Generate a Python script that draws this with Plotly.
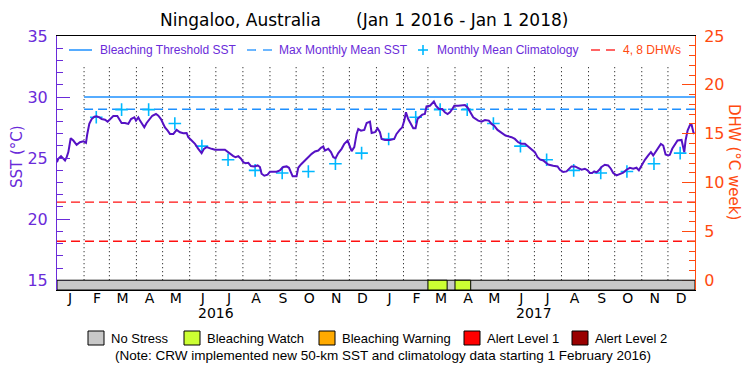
import pandas as pd
import plotly.graph_objects as go

# ---------------- data ----------------
base_date = "2016-01-01"

# daily SST (°C) - x as days after 1 Jan 2016
sst_day = [0, 1.5, 4.6, 7.3, 9.2, 11.1, 13, 15.7, 18.7, 22.5,
           26.3, 30.2, 33.2, 34.7, 37, 39.7, 42.8, 45.4, 48.5, 51.2,
           55, 58, 60.7, 64.5, 69.1, 72.2, 74, 77.9, 81.7, 84.8,
           88.6, 90.5, 93.2, 95.1, 97.8, 100, 102.7, 105.8, 109.2, 113.4,
           116.1, 119.1, 121.8, 123.7, 126.8, 129.4, 133.3, 137.1, 140.9, 144.7,
           148.5, 150.4, 154.3, 158.1, 161.9, 165.7, 168.4, 171.4, 177.2, 181,
           192.4, 195.5, 199.3, 202.0, 204.6, 207.7, 210.8, 213.4, 216.1, 219.2,
           222.2, 226.0, 229.9, 232.5, 234.4, 237.5, 241.3, 244.0, 251.6, 255.4,
           259.2, 263.1, 265.8, 268.1, 270.0, 274.5, 276.4, 279.5, 283.3, 287.9,
           291.8, 295.6, 299.4, 302.4, 305.1, 307.0, 310.8, 313.9, 316.6, 319.2,
           322.3, 326.1, 329.2, 333.0, 334.9, 337.6, 340.6, 343.3, 345.2, 348.3,
           352.1, 354.8, 358.6, 360.5,
           364.3, 367.3, 370.0, 371.9, 375.7, 381.4, 386.4, 389.0, 392.9, 395.6,
           397.9, 399.8, 402.4, 405.5, 408.2, 410.8, 413.1, 415.8, 418.5, 421.5,
           423.4, 427.3, 429.9, 431.8, 434.1, 437.6, 441.4, 444.4, 447.5, 450.2,
           452.9, 455.2, 459.7, 463.5, 467.4, 470.4, 473.1, 476.9, 482.6, 486.4,
           490.3, 494.8, 497.9, 500.9, 504.7, 508.6, 513.9, 520.8, 524.6, 528.4,
           532.2, 536.1, 539.9, 543.7, 547.5,
           550.6, 553.3, 557.1, 562.8, 568.5, 573.5, 576.2, 580.0, 583.8, 586.9,
           589.5, 593.4, 597.2, 601.0, 604.8, 607.9, 610.5, 613.2, 615.5, 618.2,
           620.8, 623.9, 627.7, 631.5, 634.6, 637.3, 641.1, 644.9, 648.7, 652.5,
           656.4, 660.2, 664.0, 666.7, 669.8, 673.6, 677.4, 680.5, 683.1, 685.8,
           688.9, 691.9, 694.6, 697.3, 700.3, 702.2, 704.9, 708.0, 711.0, 715.6,
           717.5, 718.7, 720.2, 722.5, 725.2, 727.1, 729.1, 730.2]
sst_val = [24.67, 24.95, 25.16, 24.95, 24.81, 25.08, 25.49, 26.63, 26.44, 26.09,
           26.30, 26.38, 26.25, 26.98, 27.80, 28.20, 28.39, 28.42, 28.34, 28.20,
           28.15, 27.99, 28.20, 28.45, 28.45, 28.15, 27.88, 27.88, 27.80, 28.20,
           28.34, 28.07, 28.34, 28.07, 27.80, 27.52, 27.88, 28.20, 28.47, 28.61,
           28.47, 28.20, 27.80, 27.52, 27.25, 26.98, 26.98, 27.31, 27.12, 27.04,
           27.06, 26.71, 26.44, 26.17, 25.76, 25.41, 25.76, 25.90, 25.76, 25.68,
           25.68, 25.49, 25.30, 25.16, 25.08, 25.16, 24.95, 24.67, 24.59, 24.62,
           24.35, 24.32, 24.40, 24.27, 23.72, 23.56, 23.64, 23.89, 23.89, 24.00,
           24.27, 24.32, 24.21, 23.86, 23.51, 23.51, 24.21, 24.48, 24.76, 25.08,
           25.35, 25.54, 25.62, 25.84, 25.95, 25.62, 25.76, 25.49, 25.08, 25.00,
           25.41, 25.76, 26.17, 26.44, 26.03, 25.57, 25.90, 26.98, 27.39, 27.25,
           27.31, 27.88, 27.99, 27.06,
           27.12, 27.44, 27.12, 26.57, 26.49, 26.49, 26.57, 26.98, 27.33, 27.52,
           28.07, 28.75, 28.20, 27.80, 27.44, 27.44, 28.20, 28.39, 28.56, 28.61,
           29.23, 29.29, 29.48, 29.64, 29.29, 29.02, 29.02, 28.75, 28.61, 28.75,
           29.02, 29.29, 29.29, 29.34, 29.34, 29.15, 28.83, 28.34, 28.07, 27.99,
           28.12, 28.07, 27.80, 27.66, 27.31, 27.12, 26.85, 26.71, 26.57, 26.30,
           26.17, 26.17, 25.95, 25.76, 25.49,
           25.08, 24.89, 24.81, 24.48, 24.38, 24.32, 24.05, 23.86, 23.91, 24.13,
           24.32, 24.32, 24.21, 24.05, 24.13, 24.00, 23.78, 23.78, 23.91, 23.83,
           24.00, 24.27, 24.46, 24.40, 24.13, 23.78, 23.59, 23.67, 23.81, 24.05,
           24.21, 24.13, 24.21, 24.00, 24.40, 24.86, 25.22, 25.49, 25.22, 25.49,
           25.90, 26.17, 26.03, 25.30, 25.22, 25.27, 25.76, 26.17, 26.44, 26.49,
           25.90, 25.49, 26.44, 27.25, 27.71, 27.74, 27.12, 26.98]

# monthly mean climatology (°C), Jan..Dec, shown from Feb 2016 on
clim_by_month = [26.57, 28.35, 28.97, 28.97, 27.83, 25.98,
                 24.86, 24.00, 23.78, 23.91, 24.54, 25.41]
clim_first_month = "2016-02-01"
clim_last_month = "2017-12-01"

threshold_sst = 30.0
mmm_sst = 29.0
new_data_start = "2016-02-01"
dhw_levels = [4, 8]

month_letters = ["J", "F", "M", "A", "M", "J", "J", "A", "S", "O", "N", "D"]
year_labels = ["2016", "2017"]
year_centers = ["2016-07-01", "2017-07-01"]

watch_start = ["2017-03-01", "2017-04-01"]
watch_end = ["2017-03-23", "2017-04-19"]

alert_names = ["No Stress", "Bleaching Watch", "Bleaching Warning", "Alert Level 1", "Alert Level 2"]
alert_colors = ["#C8C8C8", "#CCFF33", "#FFAA00", "#FF0000", "#990000"]

x_start, x_end = "2016-01-01", "2018-01-01"

# ---------------- styling ----------------
PURPLE_LINE = "#5511C4"
PURPLE_TXT = "#6A2BD9"
ORANGE = "#FF4A10"
BLUE = "#1E90FF"
CYAN = "#00B8FF"
RED = "#FF1010"
FONT = "DejaVu Sans"
LFONT = "Liberation Sans"

W, H = 750, 375
L, R, T, B = 57, 695, 36, 290


def px(x):
    return (x - L) / (R - L)


def py(y):
    return (B - y) / (B - T)


sst_dates = pd.Timestamp(base_date) + pd.to_timedelta(sst_day, unit="D")
clim_dates = [d + pd.Timedelta(days=14) for d in pd.date_range(clim_first_month, clim_last_month, freq="MS")]
clim_vals = [clim_by_month[d.month - 1] for d in clim_dates]

month_starts = pd.date_range(x_start, "2017-12-01", freq="MS")
mid_months = [d + pd.Timedelta(days=15) for d in month_starts]
tick_text = [month_letters[d.month - 1] for d in month_starts]

fig = go.Figure()

# 4, 8 DHW lines (right axis)
for lev in dhw_levels:
    fig.add_trace(go.Scatter(x=[x_start, x_end], y=[lev, lev], yaxis="y2", mode="lines",
                             line=dict(color=RED, width=1.3, dash="9px,5px"), hoverinfo="skip"))

# threshold and MMM
fig.add_trace(go.Scatter(x=[new_data_start, x_end], y=[threshold_sst, threshold_sst], mode="lines",
                         line=dict(color=BLUE, width=1.5)))
fig.add_trace(go.Scatter(x=[new_data_start, x_end], y=[mmm_sst, mmm_sst], mode="lines",
                         line=dict(color=BLUE, width=1.3, dash="9px,5px")))

# climatology
fig.add_trace(go.Scatter(x=clim_dates, y=clim_vals, mode="markers",
                         marker=dict(symbol="cross-thin", size=9, line=dict(color=CYAN, width=1.6))))

# SST
fig.add_trace(go.Scatter(x=sst_dates, y=sst_val, mode="lines",
                         line=dict(color=PURPLE_LINE, width=2)))

shapes = []
# month separators (dotted)
for d in month_starts[1:]:
    shapes.append(dict(type="line", xref="x", yref="y", x0=d, x1=d, y0=15, y1=32.5,
                       line=dict(color="black", width=1, dash="1px,3px"), layer="below"))
# alert strip
shapes.append(dict(type="rect", xref="x", yref="y", x0=x_start, x1=x_end, y0=14.2, y1=15,
                   fillcolor=alert_colors[0], line=dict(color="black", width=1)))
for s, e in zip(watch_start, watch_end):
    shapes.append(dict(type="rect", xref="x", yref="y", x0=s, x1=e, y0=14.2, y1=15,
                       fillcolor=alert_colors[1], line=dict(color="black", width=1)))

annotations = []

# title
annotations.append(dict(text="Ningaloo, Australia", xref="paper", yref="paper", x=px(158), y=py(20),
                        xanchor="left", yanchor="middle", showarrow=False,
                        font=dict(family=FONT, size=17, color="black")))
annotations.append(dict(text="(Jan 1 2016 - Jan 1 2018)", xref="paper", yref="paper", x=px(354), y=py(20),
                        xanchor="left", yanchor="middle", showarrow=False,
                        font=dict(family=FONT, size=17, color="black")))

# axis titles
annotations.append(dict(text="SST (°C)", xref="paper", yref="paper", x=px(17), y=py(157),
                        xanchor="center", yanchor="middle", textangle=-90, showarrow=False,
                        font=dict(family=FONT, size=15, color=PURPLE_TXT)))
annotations.append(dict(text="DHW (°C week)", xref="paper", yref="paper", x=px(734), y=py(162),
                        xanchor="center", yanchor="middle", textangle=90, showarrow=False,
                        font=dict(family=FONT, size=15, color=ORANGE)))

# year labels
for yl, yc in zip(year_labels, year_centers):
    annotations.append(dict(text=yl, xref="x", yref="paper", x=yc, y=py(313),
                            xanchor="center", yanchor="middle", showarrow=False,
                            font=dict(family=FONT, size=14, color="black")))

# top legend
ly = 50
shapes.append(dict(type="line", xref="paper", yref="paper", x0=px(69), x1=px(92), y0=py(ly), y1=py(ly),
                   line=dict(color=BLUE, width=1.5)))
for a, b in [(247, 256), (263, 272)]:
    shapes.append(dict(type="line", xref="paper", yref="paper", x0=px(a), x1=px(b), y0=py(ly), y1=py(ly),
                       line=dict(color=BLUE, width=1.3)))
shapes.append(dict(type="line", xref="paper", yref="paper", x0=px(418), x1=px(428), y0=py(ly), y1=py(ly),
                   line=dict(color=CYAN, width=1.6)))
shapes.append(dict(type="line", xref="paper", yref="paper", x0=px(423), x1=px(423), y0=py(ly - 5), y1=py(ly + 5),
                   line=dict(color=CYAN, width=1.6)))
for a, b in [(591, 600), (606, 615)]:
    shapes.append(dict(type="line", xref="paper", yref="paper", x0=px(a), x1=px(b), y0=py(ly), y1=py(ly),
                       line=dict(color=RED, width=1.3)))
for txt, x0, col in [("Bleaching Threshold SST", 98, PURPLE_TXT), ("Max Monthly Mean SST", 277, PURPLE_TXT),
                     ("Monthly Mean Climatology", 435, PURPLE_TXT), ("4, 8 DHWs", 621, ORANGE)]:
    annotations.append(dict(text=txt, xref="paper", yref="paper", x=px(x0), y=py(ly),
                            xanchor="left", yanchor="middle", showarrow=False,
                            font=dict(family=LFONT, size=12, color=col)))

# bottom legend
by = 338
box_x = [88, 184, 319, 464, 572]
for name, col, bx in zip(alert_names, alert_colors, box_x):
    shapes.append(dict(type="rect", xref="paper", yref="paper", x0=px(bx), x1=px(bx + 16),
                       y0=py(by + 7), y1=py(by - 7), fillcolor=col, line=dict(color="black", width=1)))
    annotations.append(dict(text=name, xref="paper", yref="paper", x=px(bx + 21), y=py(by),
                            xanchor="left", yanchor="middle", showarrow=False,
                            font=dict(family=LFONT, size=13, color="black")))
annotations.append(dict(text="(Note: CRW implemented new 50-km SST and climatology data starting 1 February 2016)",
                        xref="paper", yref="paper", x=px(383), y=py(355), xanchor="center", yanchor="middle",
                        showarrow=False, font=dict(family=LFONT, size=13.5, color="black")))

fig.update_layout(
    width=W, height=H,
    margin=dict(l=L, r=W - R, t=T, b=H - B, pad=0),
    paper_bgcolor="white", plot_bgcolor="white",
    showlegend=False,
    shapes=shapes, annotations=annotations,
    xaxis=dict(type="date", range=[x_start, x_end], tickvals=mid_months, ticktext=tick_text,
               ticks="", ticklen=0, showgrid=False, zeroline=False, showline=True, mirror=True,
               linecolor="black", linewidth=1, tickfont=dict(family=FONT, size=14, color="black"),
               ticklabelstandoff=-5),
    yaxis=dict(range=[14.2, 35], tickvals=[15, 20, 25, 30, 35], ticks="inside", ticklen=13,
               tickcolor=PURPLE_TXT, tickwidth=1, showgrid=False, zeroline=False,
               showline=True, linecolor=PURPLE_TXT, linewidth=1,
               tickfont=dict(family=FONT, size=16, color=PURPLE_TXT), ticklabelstandoff=5,
               minor=dict(dtick=1, tick0=15, ticks="inside", ticklen=6, tickcolor=PURPLE_TXT, showgrid=False)),
    yaxis2=dict(range=[-0.99, 25], overlaying="y", side="right", anchor="x",
                tickvals=[0, 5, 10, 15, 20, 25], ticks="inside", ticklen=13, tickcolor=ORANGE,
                showgrid=False, zeroline=False, showline=True, linecolor=ORANGE, linewidth=1,
                tickfont=dict(family=FONT, size=16, color=ORANGE), ticklabelstandoff=5,
                minor=dict(dtick=1, tick0=0, ticks="inside", ticklen=6, tickcolor=ORANGE, showgrid=False)),
)

fig.write_html("out.html", config={"displayModeBar": False},
               post_script="document.body.style.margin='0px';document.body.style.overflow='hidden';")
